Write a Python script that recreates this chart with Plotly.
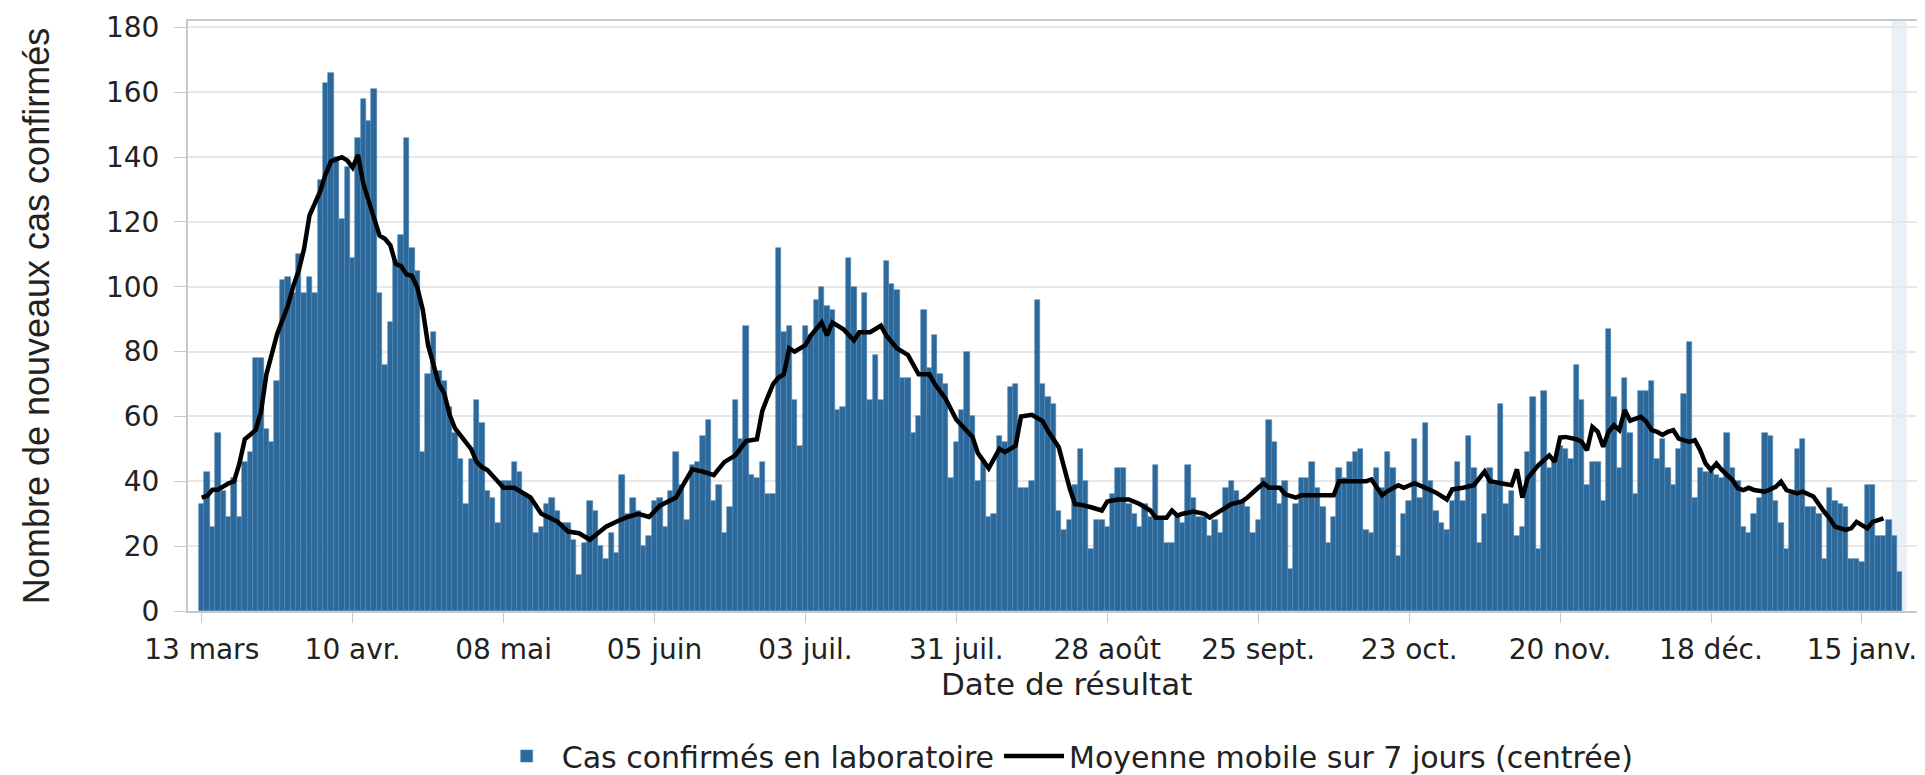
import pandas as pd
import plotly.graph_objects as go

START_DATE = "2020-03-13"

# Daily laboratory-confirmed cases, from 13 mars 2020 (one value per day)
CASES = [
    33, 43, 26, 55, 37, 29, 41, 29, 46, 49, 78, 78, 56, 52, 71, 102, 103, 98, 110, 98,
    103, 98, 133, 163, 166, 140, 121, 137, 109, 146, 158, 151, 161, 98, 76, 89, 108, 116, 146, 112,
    105, 49, 73, 86, 74, 71, 63, 55, 47, 33, 47, 65, 58, 37, 35, 27, 40, 40, 46, 43,
    36, 35, 24, 26, 33, 35, 31, 27, 27, 22, 11, 21, 34, 31, 20, 16, 24, 18, 42, 30,
    35, 31, 20, 23, 34, 35, 26, 37, 49, 39, 28, 45, 46, 54, 59, 34, 39, 24, 32, 65,
    53, 88, 42, 41, 46, 36, 36, 112, 86, 88, 65, 51, 88, 85, 96, 100, 94, 93, 62, 63,
    109, 100, 85, 98, 65, 79, 65, 108, 101, 99, 72, 72, 55, 60, 93, 75, 85, 73, 70, 41,
    52, 62, 80, 60, 40, 46, 29, 30, 54, 52, 69, 70, 38, 38, 40, 96, 70, 66, 64, 31,
    25, 28, 39, 50, 40, 19, 28, 28, 26, 36, 44, 44, 33, 30, 26, 33, 29, 45, 29, 21,
    21, 29, 27, 45, 35, 29, 29, 23, 28, 24, 38, 40, 37, 34, 32, 24, 28, 41, 59, 52,
    33, 40, 13, 33, 41, 41, 46, 38, 32, 21, 29, 44, 41, 46, 49, 50, 25, 24, 44, 38,
    49, 44, 17, 30, 34, 53, 35, 58, 40, 31, 27, 25, 34, 46, 34, 54, 44, 21, 30, 44,
    39, 64, 33, 37, 23, 26, 49, 66, 19, 68, 44, 47, 51, 50, 47, 76, 65, 39, 46, 46,
    34, 87, 66, 44, 72, 55, 36, 68, 68, 71, 47, 53, 44, 39, 50, 67, 83, 35, 44, 43,
    43, 42, 41, 55, 44, 40, 26, 24, 30, 35, 55, 54, 34, 27, 19, 36, 50, 53, 32, 32,
    30, 16, 38, 34, 33, 32, 16, 16, 15, 39, 39, 23, 23, 28, 23, 12,
]

# 7-day centred moving average (day offset from 13 mars -> value)
AVG_DAYS = [
    0, 1, 2, 3, 5, 6, 7, 8, 10, 11, 12, 13, 14, 16, 17, 18, 19, 20, 21, 22,
    23, 24, 26, 27, 28, 29, 30, 31, 32, 33, 34, 35, 36, 37, 38, 39, 40, 41, 42, 43,
    44, 45, 46, 47, 48, 49, 50, 51, 52, 53, 56, 58, 61, 63, 66, 68, 70, 72, 75, 77,
    79, 81, 83, 85, 88, 89, 91, 93, 95, 96, 97, 99, 101, 103, 104, 105, 106, 107, 108, 109,
    110, 112, 113, 115, 116, 117, 119, 121, 122, 124, 126, 127, 129, 131, 133, 135, 136, 138, 140, 143,
    144, 146, 148, 149, 151, 152, 154, 156, 157, 159, 160, 161, 162, 163, 165, 167, 168, 170, 172, 174,
    176, 177, 179, 180, 181, 182, 184, 186, 187, 189, 191, 193, 194, 196, 197, 198, 200, 201, 203, 204,
    206, 208, 210, 211, 213, 216, 217, 219, 220, 222, 223, 225, 227, 229, 231, 232, 234, 236, 238, 239,
    241, 243, 244, 245, 246, 248, 250, 251, 252, 253, 255, 256, 257, 258, 259, 260, 261, 262, 263, 264,
    265, 267, 268, 269, 270, 271, 272, 273, 274, 276, 277, 278, 279, 280, 281, 282, 284, 285, 286, 287,
    288, 290, 292, 293, 294, 296, 297, 299, 301, 302, 303, 305, 306, 307, 308, 309, 310, 312,
]
AVG_VALUES = [
    35, 35.5, 37.4, 37.4, 39.4, 40, 45.5, 53, 55.8, 61.4, 73, 78.7, 85.5, 94.2, 100.3, 105, 111.8, 122, 125.8, 129.5,
    134.8, 138.7, 140, 139, 136.8, 140.7, 131.7, 126.2, 121, 115.8, 114.8, 112.8, 107, 106.4, 103.8, 103.4, 99.8, 93, 82, 75.6,
    70, 67.1, 60.5, 56.3, 54.2, 52.3, 49.9, 46, 44.4, 43.5, 38, 38, 35, 30, 27.6, 24.5, 24, 22, 26, 27.6,
    29, 30, 29, 32.5, 35, 38, 43.7, 43, 41.9, 44, 46, 48, 52.4, 53, 61.7, 66, 70, 72, 73, 81,
    80, 82, 85, 89, 85, 89, 87, 83.5, 86, 86, 88, 85, 81, 79, 73, 73, 70, 65.5, 59, 53.7,
    48.7, 44, 50, 49, 51, 60, 60.5, 58.6, 55.5, 50.5, 44, 38, 33, 32.8, 32, 31, 33.8, 34.4, 34.4, 33,
    31, 28.8, 28.8, 31, 29.4, 30, 30.7, 30, 28.8, 31, 33, 33.8, 35, 38, 39.4, 38, 38, 36, 35, 35.7,
    35.7, 35.7, 35.7, 40, 40, 40, 40.6, 35.7, 37, 38.8, 38, 39.4, 38, 36.5, 34.4, 37.5, 38, 38.8, 43, 40,
    39.4, 38.8, 43.7, 35, 41, 45, 48, 46, 53.5, 53.7, 53, 52.2, 49.6, 56.8, 55.3, 50.7, 55.3, 57.3, 55.8, 62,
    58.7, 59.9, 58.4, 55.8, 55.3, 54.3, 55.3, 55.8, 53.2, 52.2, 52.7, 49.6, 45.5, 43.5, 45.5, 43.5, 40.4, 37.8, 37.3, 38,
    37.3, 36.8, 38.3, 39.9, 37.3, 36.3, 36.8, 35.3, 30.6, 28.6, 26, 25, 25.5, 27.5, 26.5, 25.5, 27.5, 28.6,
]

TICK_DATES = [
    "2020-03-13", "2020-04-10", "2020-05-08", "2020-06-05", "2020-07-03", "2020-07-31",
    "2020-08-28", "2020-09-25", "2020-10-23", "2020-11-20", "2020-12-18", "2021-01-15",
]
TICK_LABELS = [
    "13 mars", "10 avr.", "08 mai", "05 juin", "03 juil.", "31 juil.",
    "28 août", "25 sept.", "23 oct.", "20 nov.", "18 déc.", "15 janv.",
]
Y_TICKS = [0, 20, 40, 60, 80, 100, 120, 140, 160, 180]

start = pd.Timestamp(START_DATE)
dates = pd.date_range(start, periods=len(CASES), freq="D")
avg_dates = [start + pd.Timedelta(days=d) for d in AVG_DAYS]

BAR_COLOR = "#2d689b"
TICK_FONT = dict(family="DejaVu Sans", size=28, color="#222222")

fig = go.Figure()
fig.add_trace(go.Bar(
    x=dates, y=CASES, name="Cas confirmés en laboratoire",
    marker=dict(color=BAR_COLOR, line=dict(color="#4f86b4", width=0.6)),
))
fig.add_trace(go.Scatter(
    x=avg_dates, y=AVG_VALUES, mode="lines",
    name="Moyenne mobile sur 7 jours (centrée)",
    line=dict(color="#000000", width=4.5),
))

# shaded band over the most recent (incomplete) days
fig.add_shape(
    type="rect", xref="x", yref="paper",
    x0=start + pd.Timedelta(days=313.5), x1=start + pd.Timedelta(days=316.3),
    y0=0, y1=1, fillcolor="#e8f0f8", line=dict(width=0), layer="below",
)

# x-axis title placed as a text annotation under the tick labels
fig.add_annotation(
    text="Date de résultat", xref="paper", yref="paper",
    x=0.506, y=-0.123, xanchor="center", yanchor="middle", showarrow=False,
    font=dict(family="DejaVu Sans", size=31, color="#222222"),
)

x_lo = start - pd.Timedelta(days=2.54)
x_hi = start + pd.Timedelta(days=319.7)

# the page adds an 8 px body margin, so the figure is 8 px smaller on each side
fig.update_layout(
    width=1917, height=767,
    margin=dict(l=180, r=0, t=13, b=164, autoexpand=False),
    plot_bgcolor="white", paper_bgcolor="white",
    bargap=0,
    showlegend=True,
    legend=dict(
        orientation="h", x=0.505, xanchor="center", y=-0.2458, yanchor="middle",
        font=dict(family="DejaVu Sans", size=30, color="#222222"),
        itemwidth=60, bgcolor="rgba(0,0,0,0)",
    ),
    xaxis=dict(
        type="date", range=[x_lo, x_hi],
        tickmode="array", tickvals=TICK_DATES, ticktext=TICK_LABELS,
        tickfont=TICK_FONT, ticks="outside", ticklen=10, tickcolor="#c8c8c8",
        ticklabelstandoff=2,
        showgrid=False, showline=True, linecolor="#c8c8c8", linewidth=2, mirror=True,
        zeroline=False,
    ),
    yaxis=dict(
        range=[0, 182], tickmode="array", tickvals=Y_TICKS,
        tickfont=TICK_FONT, ticks="outside", ticklen=12, tickcolor="#c8c8c8",
        ticklabelstandoff=9,
        showgrid=True, gridcolor="#e8e8e8", gridwidth=2,
        showline=True, linecolor="#c8c8c8", linewidth=2,
        zeroline=False,
        title=dict(
            text="Nombre de nouveaux cas confirmés",
            font=dict(family="Liberation Sans", size=36, color="#222222"),
            standoff=45,
        ),
    ),
)

fig.write_html("out.html")
